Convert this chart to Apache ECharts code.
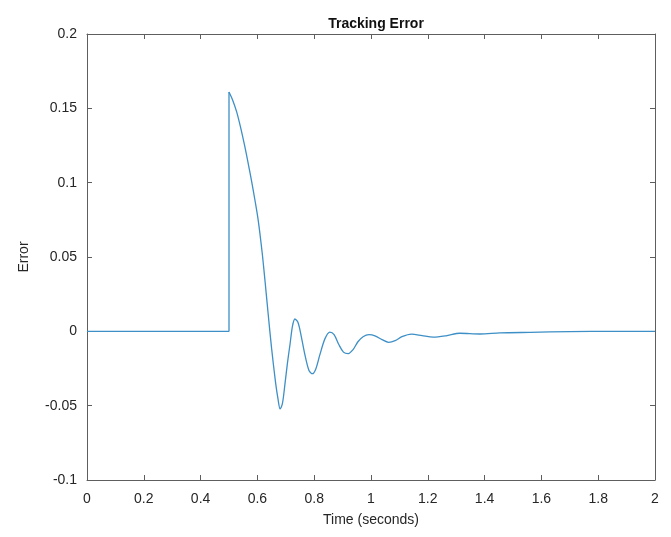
<!DOCTYPE html>
<html>
<head>
<meta charset="utf-8">
<script src="https://cdn.jsdelivr.net/npm/echarts@6/dist/echarts.min.js"></script>
<style>
html,body{margin:0;padding:0;background:#fff;}
#c{width:671px;height:537px;}
</style>
</head>
<body>
<div id="c"></div>
<script>
// Pre-step segment (time, error)
var stepTime  = [0, 0.5, 0.5];
var stepError = [0, 0, 0.161];

// Response after the step (time, error)
var respTime = [0.5, 0.513, 0.527, 0.541, 0.556, 0.568, 0.58, 0.592, 0.603, 0.617, 0.627, 0.638, 0.65, 0.664, 0.6725, 0.68,
  0.688, 0.697, 0.706, 0.715, 0.7235, 0.732, 0.743, 0.754, 0.768, 0.782, 0.794, 0.806, 0.82, 0.838, 0.855,
  0.87, 0.887, 0.903, 0.92, 0.937, 0.954, 0.972, 0.993, 1.014, 1.039, 1.062, 1.085, 1.109, 1.143,
  1.18, 1.219, 1.264, 1.313, 1.384, 1.454, 1.56, 1.7, 1.85, 2.0];
var respError = [0.161, 0.1555, 0.1476, 0.137, 0.124, 0.1125, 0.1005, 0.0875, 0.0745, 0.0525, 0.0335, 0.0115, -0.0115, -0.0345, -0.0455, -0.0522,
  -0.0487, -0.0355, -0.021, -0.0085, 0.0035, 0.0083, 0.0059, -0.003, -0.0164, -0.0265, -0.0285, -0.0251, -0.0157, -0.0049, -0.0005,
  -0.0022, -0.009, -0.014, -0.015, -0.0123, -0.007, -0.0036, -0.0022, -0.003, -0.0056, -0.0074, -0.0063, -0.0036, -0.0019,
  -0.0029, -0.0039, -0.003, -0.0013, -0.0018, -0.0011, -0.0007, -0.0002, 0, 0];

var titleText = 'Tracking Error';
var xName = 'Time (seconds)';
var yName = 'Error';

function pairs(a, b){ return a.map(function(v,i){ return [v, b[i]]; }); }

var axisColor = '#5e5e5e';
var textColor = '#262626';
var font = 'Liberation Sans, Arial, sans-serif';
var lineColor = '#3d8fc6';

var chart = echarts.init(document.getElementById('c'), null, {renderer:'canvas'});
chart.setOption({
  animation: false,
  backgroundColor: '#fff',
  title: {
    text: titleText, left: 371, top: 12, textAlign: 'center',
    textStyle: {fontFamily: font, fontSize: 14, fontWeight: 'bold', color: '#111'}
  },
  grid: {left: 87, top: 34, right: 16, bottom: 57, containLabel: false},
  xAxis: [{
    type: 'value', min: 0, max: 2, interval: 0.2, position: 'bottom',
    name: xName, nameLocation: 'middle', nameGap: 33,
    nameTextStyle: {fontFamily: font, fontSize: 14, color: textColor},
    axisLine: {show: true, onZero: false, lineStyle: {color: axisColor, width: 1}},
    axisTick: {show: true, inside: true, length: 5, lineStyle: {color: axisColor}},
    axisLabel: {fontFamily: font, fontSize: 14, color: textColor, margin: 12},
    splitLine: {show: false}
  }, {
    type: 'value', min: 0, max: 2, interval: 0.2, position: 'top',
    axisLine: {show: true, onZero: false, lineStyle: {color: axisColor, width: 1}},
    axisTick: {show: true, inside: true, length: 5, lineStyle: {color: axisColor}},
    axisLabel: {show: false}, splitLine: {show: false}
  }],
  yAxis: [{
    type: 'value', min: -0.1, max: 0.2, interval: 0.05, position: 'left',
    name: yName, nameLocation: 'middle', nameGap: 56, nameRotate: 90,
    nameTextStyle: {fontFamily: font, fontSize: 14, color: textColor},
    axisLine: {show: true, onZero: false, lineStyle: {color: axisColor, width: 1}},
    axisTick: {show: true, inside: true, length: 5, lineStyle: {color: axisColor}},
    axisLabel: {fontFamily: font, fontSize: 14, color: textColor, margin: 10,
      formatter: function(v){ return String(parseFloat(v.toFixed(4))); }},
    splitLine: {show: false}
  }, {
    type: 'value', min: -0.1, max: 0.2, interval: 0.05, position: 'right',
    axisLine: {show: true, onZero: false, lineStyle: {color: axisColor, width: 1}},
    axisTick: {show: true, inside: true, length: 5, lineStyle: {color: axisColor}},
    axisLabel: {show: false}, splitLine: {show: false}
  }],
  series: [{
    type: 'line', xAxisIndex: 0, yAxisIndex: 0, showSymbol: false, smooth: false,
    data: pairs(stepTime, stepError),
    lineStyle: {color: lineColor, width: 1.3}
  }, {
    type: 'line', xAxisIndex: 0, yAxisIndex: 0, showSymbol: false, smooth: 0.3,
    data: pairs(respTime, respError),
    lineStyle: {color: lineColor, width: 1.3}
  }]
});
</script>
</body>
</html>
